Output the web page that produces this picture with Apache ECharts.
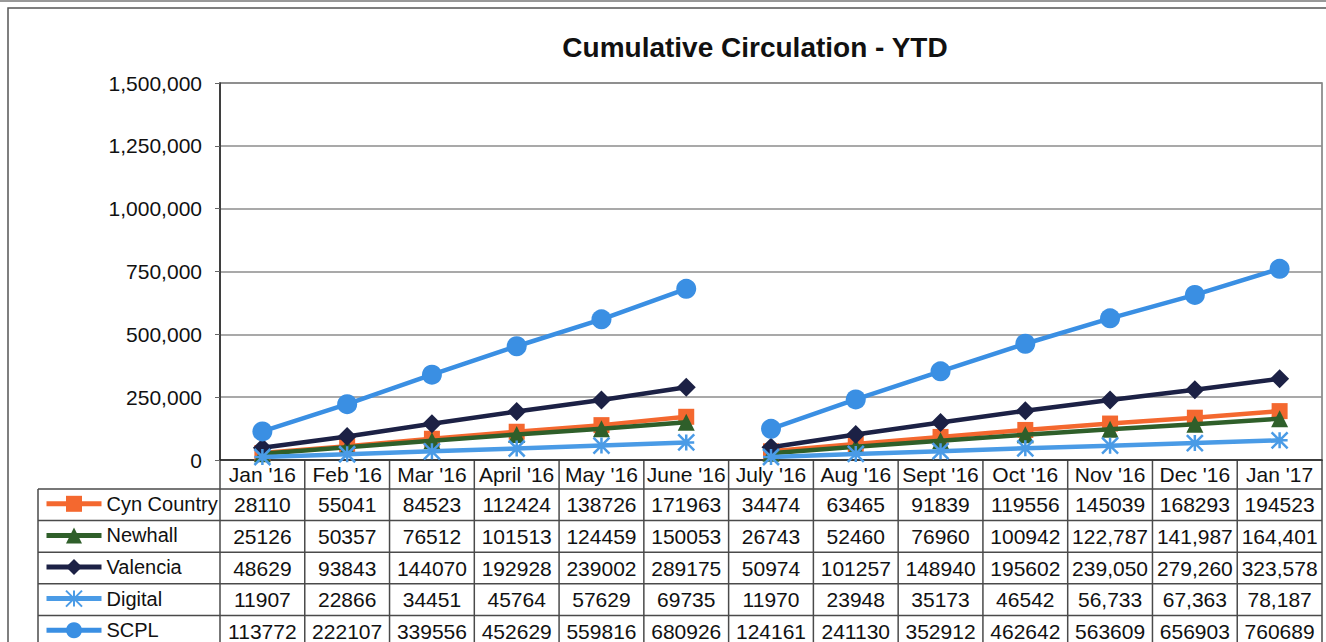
<!DOCTYPE html>
<html><head><meta charset="utf-8">
<script src="https://cdn.jsdelivr.net/npm/echarts@6/dist/echarts.min.js"></script>
<style>html,body{margin:0;padding:0;background:#fff}#c{width:1326px;height:642px}</style>
</head><body><div id="c"></div>
<script>
// ---- data ----
const categories = ["Jan '16","Feb '16","Mar '16","April '16","May '16","June '16","July '16","Aug '16","Sept '16","Oct '16","Nov '16","Dec '16","Jan '17"];
const seriesNames = ['Cyn Country','Newhall','Valencia','Digital','SCPL'];
const cynCountry = [28110,55041,84523,112424,138726,171963,34474,63465,91839,119556,145039,168293,194523];
const newhall    = [25126,50357,76512,101513,124459,150053,26743,52460,76960,100942,122787,141987,164401];
const valencia   = [48629,93843,144070,192928,239002,289175,50974,101257,148940,195602,239050,279260,323578];
const digital    = [11907,22866,34451,45764,57629,69735,11970,23948,35173,46542,56733,67363,78187];
const scpl       = [113772,222107,339556,452629,559816,680926,124161,241130,352912,462642,563609,656903,760689];
const yMin = 0, yMax = 1500000, yStep = 250000;
const restartIndex = 6;            // YTD restarts at July '16
const commaFrom = [13, 10, 10, 10, 13]; // table cells shown with thousands separators from this column

// ---- styles ----
const allValues = [cynCountry, newhall, valencia, digital, scpl];
const colors = ['#F4682F', '#2F5F2A', '#1C2145', '#4A9BE6', '#3A8FE3'];
const symbols = ['rect', 'triangle', 'diamond', 'path://M0,0L10,10M10,0L0,10M5,0L5,10M0,5L10,5', 'circle'];
const symbolSizes = [16, 17, 19, 16, 20];
const FONT = "'Liberation Sans', Arial, sans-serif";

const W = 1326, H = 642;
const G = {left: 220, right: 4, top: 83, bottom: 182};
const plotW = W - G.left - G.right;
const colW = plotW / categories.length;
const axisY = H - G.bottom;      // 460
const headBottom = 489;
const rowH = 31.6;
const tableLeft = 38;
const tableRight = W - G.right;

const series = [];
allValues.forEach((vals, i) => {
  const isAst = i === 3;
  const base = {
    name: seriesNames[i], type: 'line', symbol: symbols[i], symbolSize: symbolSizes[i],
    showAllSymbol: true, z: 2 + i,
    lineStyle: {color: colors[i], width: 4.5},
    itemStyle: isAst ? {color: 'rgba(0,0,0,0)', borderColor: colors[i], borderWidth: 2.5}
                     : {color: colors[i]},
    emphasis: {disabled: true}
  };
  series.push(Object.assign({}, base, {data: vals.map((v, j) => j < restartIndex ? v : null)}));
  series.push(Object.assign({}, base, {data: vals.map((v, j) => j >= restartIndex ? v : null)}));
});

const fmt = v => v.toLocaleString('en-US');

// legends: one per table row
const legends = seriesNames.map((n, i) => {
  const cy = headBottom + rowH * (i + 0.5) - 1;
  const l = {
    data: [n], left: 44, top: cy - 10, padding: 0, itemWidth: 55, itemHeight: 20, itemGap: 0,
    selectedMode: false,
    lineStyle: {width: 5, color: colors[i]},
    textStyle: {fontSize: 20, fontFamily: FONT, color: '#111', lineHeight: 20, padding: [0, 0, 0, 0]}
  };
  if (i === 3) l.itemStyle = {color: 'rgba(0,0,0,0)', borderColor: colors[3], borderWidth: 2};
  return l;
});

// table graphic
const graphic = [];
const lineStyle = {stroke: '#4a4a4a', lineWidth: 1.5};
graphic.push({type: 'line', silent: true, shape: {x1: 0, y1: 1, x2: W, y2: 1}, style: {stroke: '#777', lineWidth: 1.5}});
graphic.push({type: 'rect', silent: true, shape: {x: 8, y: 8, width: W + 20, height: H + 20}, style: {fill: 'none', stroke: '#555', lineWidth: 1.5}});
for (let r = 0; r <= seriesNames.length; r++) {
  const y = headBottom + rowH * r;
  graphic.push({type: 'line', silent: true, shape: {x1: tableLeft, y1: y, x2: tableRight, y2: y}, style: lineStyle});
}
graphic.push({type: 'line', silent: true, shape: {x1: tableLeft, y1: headBottom, x2: tableLeft, y2: H + 10}, style: lineStyle});
for (let k = 0; k <= categories.length; k++) {
  const x = G.left + colW * k;
  graphic.push({type: 'line', silent: true, shape: {x1: x, y1: axisY, x2: x, y2: H + 10}, style: lineStyle});
}
allValues.forEach((vals, i) => {
  const cy = headBottom + rowH * (i + 0.5);
  vals.forEach((v, j) => {
    graphic.push({type: 'text', silent: true, x: G.left + colW * (j + 0.5), y: cy,
      style: {text: j >= commaFrom[i] ? fmt(v) : String(v), fontSize: 21, fontFamily: FONT, fill: '#111',
              align: 'center', verticalAlign: 'middle'}});
  });
});

const chart = echarts.init(document.getElementById('c'), null, {renderer: 'svg', width: W, height: H});
chart.setOption({
  animation: false,
  backgroundColor: '#fff',
  title: {text: 'Cumulative Circulation - YTD', left: 755, textAlign: 'center', top: 33, padding: 0,
    textStyle: {fontSize: 28, fontWeight: 'bold', fontFamily: FONT, color: '#111'}},
  legend: legends,
  grid: {left: G.left, right: G.right, top: G.top, bottom: G.bottom, show: true, borderColor: '#777', borderWidth: 1.5},
  xAxis: {type: 'category', data: categories, boundaryGap: true,
    axisLine: {lineStyle: {color: '#222', width: 1.5}}, axisTick: {show: false},
    axisLabel: {interval: 0, fontSize: 21, fontFamily: FONT, color: '#111', margin: 4}},
  yAxis: {type: 'value', min: yMin, max: yMax, interval: yStep,
    axisLine: {show: true, lineStyle: {color: '#222', width: 1.5}},
    axisTick: {show: true, length: 5, lineStyle: {color: '#666'}},
    splitLine: {lineStyle: {color: '#8c8c8c', width: 1.5}},
    axisLabel: {formatter: fmt, fontSize: 21, fontFamily: FONT, color: '#111', margin: 18}},
  series: series,
  graphic: graphic
});
</script></body></html>
